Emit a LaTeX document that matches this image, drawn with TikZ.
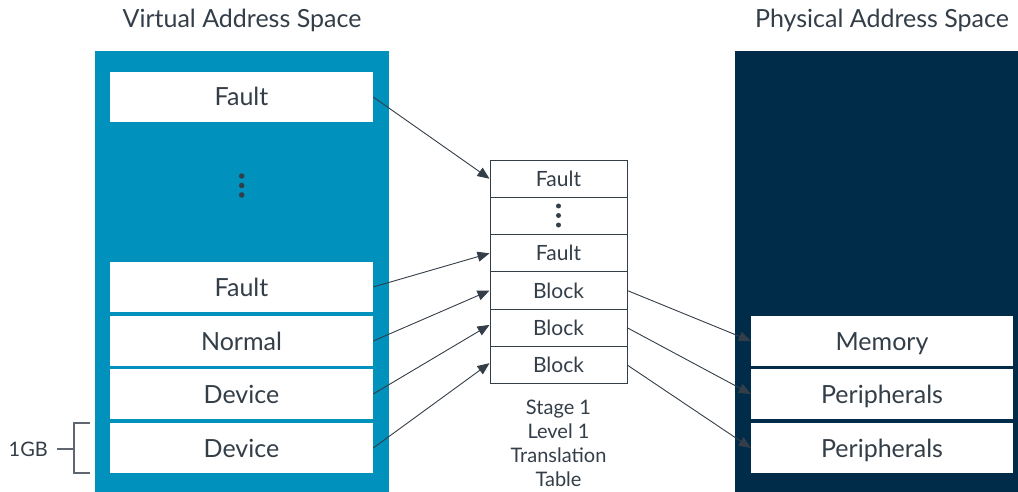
\documentclass[tikz,border=0pt]{standalone}
\usepackage{fontspec}
\setmainfont{Lato}
\usetikzlibrary{arrows.meta}
\definecolor{armblue}{HTML}{0091BD}
\definecolor{armnavy}{HTML}{002B49}
\definecolor{armtext}{HTML}{333E48}
\definecolor{armgray}{HTML}{5F6670}
\begin{document}
\begin{tikzpicture}[x=1pt,y=-1pt,
  vbox/.style={fill=white,draw=none,minimum width=263pt,minimum height=50pt,inner sep=0pt,text=armtext,font=\fontsize{25}{30}\selectfont,text height=18pt,text depth=0pt},
  pbox/.style={fill=white,draw=none,minimum width=262pt,minimum height=50pt,inner sep=0pt,text=armtext,font=\fontsize{25}{30}\selectfont,text height=18pt,text depth=0pt},
  trow/.style={fill=white,draw=armtext,line width=1pt,minimum width=137pt,minimum height=37.3pt,inner sep=0pt,text=armtext,font=\fontsize{21}{25}\selectfont,text height=15pt,text depth=0pt},
  link/.style={draw=armtext,line width=0.9pt,-{Triangle[length=12pt,width=10pt]}},
  title/.style={text=armtext,font=\fontsize{25}{30}\selectfont,inner sep=0pt,text height=18pt,text depth=0pt},
  dotmark/.style={circle,fill=armtext,inner sep=0pt,minimum size=5.5pt}
]
\useasboundingbox (0,0) rectangle (1018,492);
% panels
\fill[armblue] (94.5,51) rectangle (389,492);
\fill[armnavy] (735,51) rectangle (1018,492);
% titles
\node[title] (vtitle) at (242,18.5) {Virtual Address Space};
\node[title] (ptitle) at (882,18.5) {Physical Address Space};
% virtual boxes
\node[vbox] (vf1) at (241.5,97) {Fault};
\node[dotmark] (vd1) at (241.7,176) {};
\node[dotmark] (vd2) at (241.7,185.5) {};
\node[dotmark] (vd3) at (241.7,195) {};
\node[vbox] (vf2) at (241.5,287) {Fault};
\node[vbox] (vn) at (241.5,341) {Normal};
\node[vbox] (vdev1) at (241.5,394) {Device};
\node[vbox] (vdev2) at (241.5,448) {Device};
% physical boxes
\node[pbox] (pm) at (882,341) {Memory};
\node[pbox] (pp1) at (882,394) {Peripherals};
\node[pbox] (pp2) at (882,448) {Peripherals};
% table
\node[trow] (t1) at (558.5,178.7) {Fault};
\node[trow] (t2) at (558.5,216) {};
\node[dotmark,minimum size=5pt] (td1) at (558.5,206) {};
\node[dotmark,minimum size=5pt] (td2) at (558.5,215.5) {};
\node[dotmark,minimum size=5pt] (td3) at (558.5,225) {};
\node[trow] (t3) at (558.5,253.3) {Fault};
\node[trow] (t4) at (558.5,290.6) {Block};
\node[trow] (t5) at (558.5,327.9) {Block};
\node[trow] (t6) at (558.5,365.2) {Block};
\node[text=armtext,font=\fontsize{20}{24}\selectfont,align=center,inner sep=0pt,anchor=north] (tcap) at (558.5,400) {Stage 1\\Level 1\\Translation\\Table};
% arrows
\draw[link] (vf1.east) -- (t1.west);
\draw[link] (vf2.east) -- (t3.west);
\draw[link] (vn.east) -- (t4.west);
\draw[link] (vdev1.east) -- ([yshift=3pt]t5.west);
\draw[link] (vdev2.east) -- ([yshift=2pt]t6.west);
\draw[link] (t4.east) -- (pm.west);
\draw[link] (t5.east) -- (pp1.west);
\draw[link] (t6.east) -- (pp2.west);
% 1GB bracket
\coordinate (bt) at (90,423);
\coordinate (bb) at (90,473);
\coordinate (btl) at (74,423);
\coordinate (bbl) at (74,473);
\coordinate (bm) at (74,449);
\node[text=armtext,font=\fontsize{20}{24}\selectfont,inner sep=0pt,anchor=east,text height=14.4pt,text depth=0pt] (gb) at (48,449) {1GB};
\draw[armgray,line width=1.2pt] (bt) -- (btl) -- (bbl) -- (bb);
\draw[armgray,line width=1.2pt] (bm) -- ([xshift=9pt]gb.east);
\end{tikzpicture}
\end{document}
